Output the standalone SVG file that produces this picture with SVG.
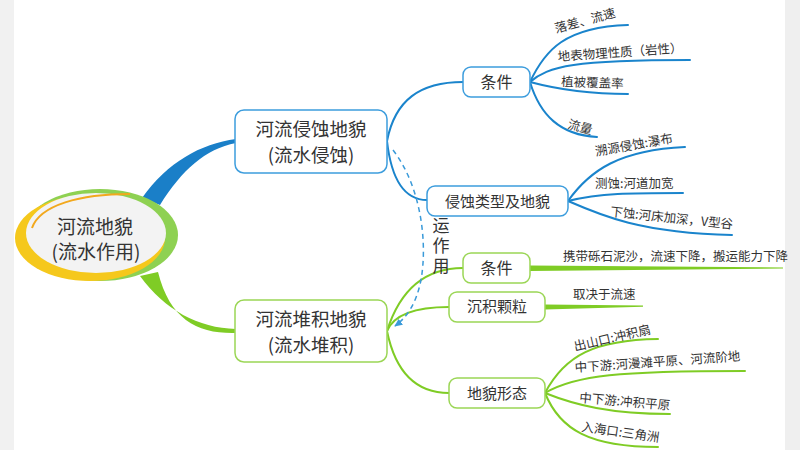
<svg xmlns="http://www.w3.org/2000/svg" width="800" height="450" viewBox="0 0 800 450">
<defs>
<style>
text{font-family:"Noto Sans CJK SC","Noto Sans",sans-serif;fill:#333}
.main{font-size:18.5px;text-anchor:middle}
.sub{font-size:15px;text-anchor:middle}
.leaf{font-size:12.5px}
.bbox{fill:#fff;stroke:#3d9ddd;stroke-width:1.5}
.gbox{fill:#fff;stroke:#9bd656;stroke-width:1.5}
.bl{fill:none;stroke:#1a84cc;stroke-width:2;stroke-linecap:round}
.gl{fill:none;stroke:#7fcc25;stroke-width:2;stroke-linecap:round}
</style>
<marker id="arr" viewBox="0 0 10 10" refX="8" refY="5" markerWidth="6" markerHeight="6" orient="auto">
<path d="M0,1 L9,5 L0,9 Z" fill="#3a9ad9"/>
</marker>
</defs>
<rect width="800" height="450" fill="#fff"/>
<rect x="0" y="0" width="14" height="450" fill="#f1f1f1"/>
<rect x="785" y="0" width="15" height="450" fill="#efefef"/>

<g id="connectors">
<path d="M142,198 C168,162 200,144 236,139 L236,143 C205,149 182,170 160,205 Z" fill="#1a7fc8"/>
<path d="M140,276 C165,310 198,328 236,329 L236,333 C198,334 170,320 158,272 Z" fill="#7fcc25"/>
<path class="bl" d="M387,141 C395,100 420,82 463,82"/>
<path class="bl" d="M387,141 C392,185 408,200 427,200"/>
<path class="bl" d="M530,82 C545,50 565,27 628,25"/>
<path class="bl" d="M530,82 C548,66 575,60 690,60"/>
<path class="bl" d="M530,82 C560,90 590,94 628,94"/>
<path class="bl" d="M530,82 C540,115 560,135 597,137"/>
<path class="bl" d="M568,201 C590,170 620,150 685,147"/>
<path class="bl" d="M568,201 C600,193 630,193 683,193"/>
<path class="bl" d="M568,201 C600,215 640,233 732,235"/>
<path class="gl" d="M387,331 C400,290 425,268 463,268"/>
<path class="gl" d="M387,331 C395,312 420,307 449,307"/>
<path class="gl" d="M387,331 C395,370 415,393 449,393"/>
<path d="M530,265.5 L783,267.4 L783,268.6 L530,271 Z" fill="#7fcc25"/>
<path d="M545,304.5 L643,305.5 L643,306.8 L545,309.5 Z" fill="#7fcc25"/>
<path class="gl" d="M545,393 C565,355 595,340 658,339"/>
<path class="gl" d="M545,393 C575,375 620,371 745,371"/>
<path class="gl" d="M545,393 C575,405 610,414 670,414"/>
<path class="gl" d="M545,393 C560,430 590,447 658,447"/>
<path d="M393,150 C420,185 428,240 421,280 C416,305 406,318 395,326" fill="none" stroke="#3a9ad9" stroke-width="1.5" stroke-dasharray="5,4" marker-end="url(#arr)"/>
<text x="441" y="217" style="font-size:17px;writing-mode:vertical-rl;letter-spacing:3px">运作用</text>
</g>

<g id="root">
<ellipse cx="100" cy="235" rx="78" ry="46" fill="#8ed152"/>
<ellipse cx="90" cy="238" rx="75" ry="43" fill="#f5c81c"/>
<ellipse cx="96" cy="233" rx="70" ry="40" fill="#f3f3f3"/>
<path d="M32,228 C40,205 80,194 130,194" fill="none" stroke="#f2a81d" stroke-width="2"/>
<text x="95" y="234" style="font-size:19px" text-anchor="middle">河流地貌</text>
<text x="96" y="259" style="font-size:19px" text-anchor="middle">(流水作用)</text>
</g>

<g id="erosion">
<rect class="bbox" x="235" y="110" width="152" height="63" rx="9"/>
<text class="main" x="311" y="136">河流侵蚀地貌</text>
<text class="main" x="311" y="162">(流水侵蚀)</text>
</g>
<g id="deposition">
<rect class="gbox" x="235" y="300" width="152" height="62" rx="9"/>
<text class="main" x="311" y="326">河流堆积地貌</text>
<text class="main" x="311" y="352">(流水堆积)</text>
</g>

<g id="e-cond">
<rect class="bbox" x="463" y="67" width="67" height="30" rx="8"/>
<text class="sub" x="496.5" y="88" style="font-size:16px">条件</text>
</g>
<g id="e-type">
<rect class="bbox" x="427" y="186" width="141" height="30" rx="8"/>
<text class="sub" x="497.5" y="207">侵蚀类型及地貌</text>
</g>
<g id="d-cond">
<rect class="gbox" x="463" y="253" width="67" height="30" rx="8"/>
<text class="sub" x="496.5" y="274" style="font-size:16px">条件</text>
</g>
<g id="d-grain">
<rect class="gbox" x="449" y="292" width="96" height="30" rx="8"/>
<text class="sub" x="497" y="312">沉积颗粒</text>
</g>
<g id="d-form">
<rect class="gbox" x="449" y="378" width="96" height="30" rx="8"/>
<text class="sub" x="497" y="399">地貌形态</text>
</g>

<g id="leaves">
<text class="leaf" transform="translate(556,33) rotate(-15)">落差、流速</text>
<text class="leaf" transform="translate(558,61) rotate(-4)">地表物理性质（岩性）</text>
<text class="leaf" transform="translate(561,86) rotate(2)">植被覆盖率</text>
<text class="leaf" transform="translate(567,128) rotate(15)">流量</text>
<text class="leaf" transform="translate(596,156) rotate(-10)">溯源侵蚀:瀑布</text>
<text class="leaf" transform="translate(595,188)">测蚀:河道加宽</text>
<text class="leaf" transform="translate(610,216) rotate(6)">下蚀:河床加深，V型谷</text>
<text class="leaf" x="563" y="261">携带砾石泥沙，流速下降，搬运能力下降</text>
<text class="leaf" x="573" y="299">取决于流速</text>
<text class="leaf" transform="translate(575,351) rotate(-13)">出山口:冲积扇</text>
<text class="leaf" transform="translate(575,372) rotate(-4)">中下游:河漫滩平原、河流阶地</text>
<text class="leaf" transform="translate(579,402) rotate(5)">中下游:冲积平原</text>
<text class="leaf" transform="translate(581,431) rotate(8)">入海口:三角洲</text>
</g>
</svg>
